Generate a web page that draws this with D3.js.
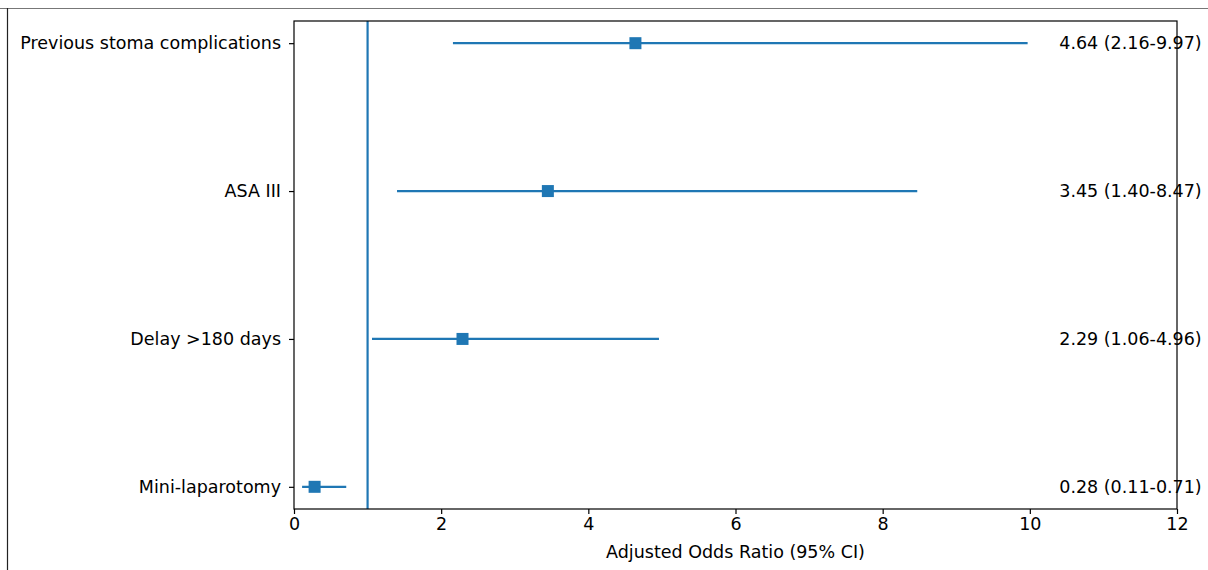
<!DOCTYPE html>
<html>
<head>
<meta charset="utf-8">
<script src="https://cdn.jsdelivr.net/npm/d3@7"></script>
<style>
  body { margin: 0; background: #fff; }
  text { font-family: 'DejaVu Sans', sans-serif; }
</style>
</head>
<body>
<script>
var factors = ['Previous stoma complications', 'ASA III', 'Delay >180 days', 'Mini-laparotomy'];
var oddsRatio = [4.64, 3.45, 2.29, 0.28];
var ciLower = [2.16, 1.40, 1.06, 0.11];
var ciUpper = [9.97, 8.47, 4.96, 0.71];
var xTicks = [0, 2, 4, 6, 8, 10, 12];

var blue = '#1f77b4';
var fontSize = 17.5;

var svg = d3.select('body').append('svg')
  .attr('width', 1208)
  .attr('height', 570);

// outer frame of the screenshot
svg.append('line')
  .attr('x1', 0).attr('x2', 1208).attr('y1', 8.5).attr('y2', 8.5)
  .style('stroke', '#777').style('stroke-width', 1);
svg.append('line')
  .attr('x1', 7.5).attr('x2', 7.5).attr('y1', 8).attr('y2', 570)
  .style('stroke', '#222').style('stroke-width', 1.2);

var plotLeft = 294, plotRight = 1177, plotTop = 21, plotBottom = 509;

var x = d3.scaleLinear().domain([0, 12]).range([plotLeft, plotRight]);
// first factor on top, matplotlib style margins
var y = d3.scaleLinear().domain([-0.15, 3.15]).range([plotTop, plotBottom]);

var g = svg.append('g');

// reference line at OR = 1
g.append('line')
  .attr('x1', x(1)).attr('x2', x(1))
  .attr('y1', plotTop).attr('y2', plotBottom)
  .style('stroke', blue).style('stroke-width', 2.2);

var rows = g.selectAll('g.row')
  .data(factors)
  .enter().append('g')
  .attr('class', 'row');

rows.append('line')
  .attr('x1', function(d, i) { return x(ciLower[i]); })
  .attr('x2', function(d, i) { return x(ciUpper[i]); })
  .attr('y1', function(d, i) { return y(i); })
  .attr('y2', function(d, i) { return y(i); })
  .style('stroke', blue).style('stroke-width', 2.2);

rows.append('rect')
  .attr('x', function(d, i) { return x(oddsRatio[i]) - 6; })
  .attr('y', function(d, i) { return y(i) - 6; })
  .attr('width', 12).attr('height', 12)
  .style('fill', blue);

rows.append('text')
  .attr('x', x(10.4))
  .attr('y', function(d, i) { return y(i); })
  .attr('dy', '0.35em')
  .style('font-size', fontSize + 'px')
  .style('fill', '#000')
  .text(function(d, i) {
    return oddsRatio[i].toFixed(2) + ' (' + ciLower[i].toFixed(2) + '-' + ciUpper[i].toFixed(2) + ')';
  });

// axes
var xAxis = d3.axisBottom(x).tickValues(xTicks).tickSize(5).tickPadding(4).tickFormat(d3.format('d'));
var yAxis = d3.axisLeft(y).tickValues([0, 1, 2, 3]).tickSize(5).tickPadding(8)
  .tickFormat(function(d) { return factors[d]; });

var gx = svg.append('g').attr('transform', 'translate(0,' + plotBottom + ')').call(xAxis);
var gy = svg.append('g').attr('transform', 'translate(' + plotLeft + ',0)').call(yAxis);

[gx, gy].forEach(function(a) {
  a.select('.domain').remove();
  a.selectAll('line').style('stroke', '#000').style('stroke-width', 1.2);
  a.selectAll('text').style('font-size', fontSize + 'px').style('font-family', "'DejaVu Sans', sans-serif").style('fill', '#000');
});

// plot frame
svg.append('rect')
  .attr('x', plotLeft).attr('y', plotTop)
  .attr('width', plotRight - plotLeft).attr('height', plotBottom - plotTop)
  .style('fill', 'none').style('stroke', '#000').style('stroke-width', 1.2);

svg.append('text')
  .attr('x', (plotLeft + plotRight) / 2)
  .attr('y', 558)
  .style('text-anchor', 'middle')
  .style('font-size', fontSize + 'px')
  .text('Adjusted Odds Ratio (95% CI)');
</script>
</body>
</html>
